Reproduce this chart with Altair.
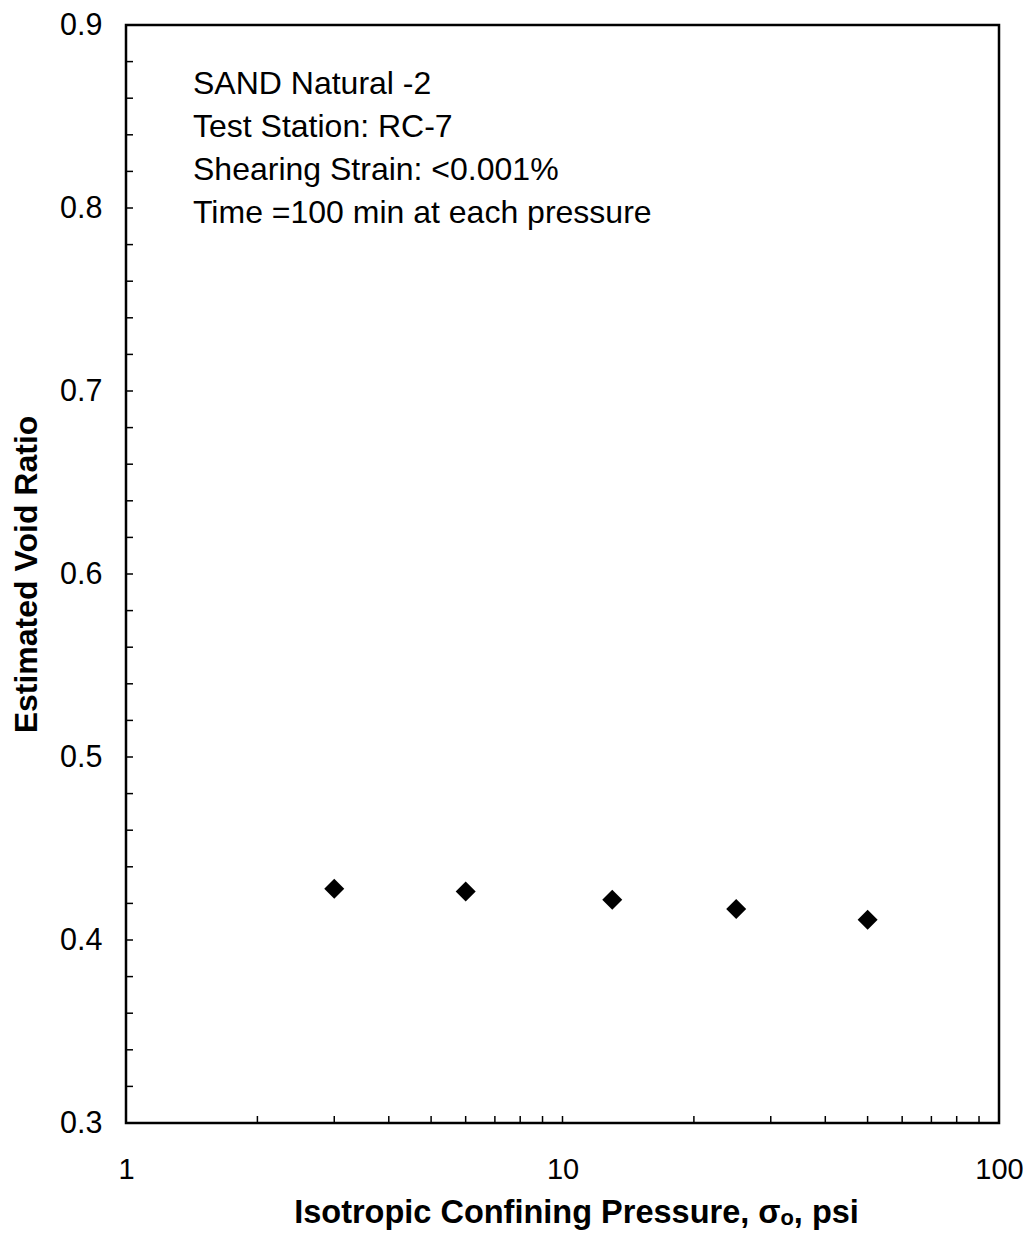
import altair as alt
import pandas as pd

# ---- data ----
pressure = [3, 6, 13, 25, 50]
void_ratio = [0.428, 0.4265, 0.422, 0.417, 0.411]

x_major = [1, 10, 100]
x_minor = [2, 3, 4, 5, 6, 7, 8, 9, 20, 30, 40, 50, 60, 70, 80, 90]
y_major = [0.3, 0.4, 0.5, 0.6, 0.7, 0.8, 0.9]
y_minor = [0.32, 0.34, 0.36, 0.38, 0.42, 0.44, 0.46, 0.48, 0.52, 0.54, 0.56, 0.58,
           0.62, 0.64, 0.66, 0.68, 0.72, 0.74, 0.76, 0.78, 0.82, 0.84, 0.86, 0.88]

notes = ["SAND Natural -2", "Test Station: RC-7",
         "Shearing Strain: <0.001%", "Time =100 min at each pressure"]

FONT = "Liberation Sans"
W, H = 873, 1098

xscale = alt.Scale(type="log", domain=[1, 100], nice=False)
yscale = alt.Scale(domain=[0.3, 0.9], zero=False, nice=False)

pts = pd.DataFrame({"p": pressure, "e": void_ratio})

points = alt.Chart(pts).mark_point(
    shape="diamond", filled=True, color="black", size=400, opacity=1
).encode(
    x=alt.X("p:Q", scale=xscale, axis=alt.Axis(
        values=x_major, format=".0f", title="Isotropic Confining Pressure, σₒ, psi",
        ticks=False, tickSize=0, domain=False, grid=False,
        labelFont=FONT, labelFontSize=29, labelColor="black",
        labelPadding=55, labelBaseline="alphabetic", labelFlush=False, labelOverlap=False,
        titleFont=FONT, titleFontSize=32.5, titleFontWeight="bold", titleColor="black",
        titleX=450, titleY=99, titleBaseline="alphabetic")),
    y=alt.Y("e:Q", scale=yscale, axis=alt.Axis(
        values=y_major, format=".1f", title="Estimated Void Ratio",
        ticks=False, tickSize=0, domain=False, grid=False,
        labelFont=FONT, labelFontSize=30.5, labelColor="black",
        labelPadding=24, labelOverlap=False, labelFlush=False,
        titleFont=FONT, titleFontSize=32, titleFontWeight="bold", titleColor="black",
        titleX=-90, titleY=549, titleBaseline="alphabetic", titleAngle=270)),
)

ytick_df = pd.DataFrame({"e": y_major[1:-1] + y_minor})
xtick_df = pd.DataFrame({"p": x_major[1:-1] + x_minor})

yticks = alt.Chart(ytick_df).mark_rule(color="black", strokeWidth=1.5).encode(
    y=alt.Y("e:Q", scale=yscale),
    x=alt.value(0), x2=alt.value(7))

xticks = alt.Chart(xtick_df).mark_rule(color="black", strokeWidth=1.5).encode(
    x=alt.X("p:Q", scale=xscale),
    y=alt.value(H), y2=alt.value(H - 7))

note_layers = []
for i, t in enumerate(notes):
    note_layers.append(
        alt.Chart(pd.DataFrame({"t": [t]})).mark_text(
            font=FONT, fontSize=32, color="black", align="left", baseline="alphabetic"
        ).encode(text="t:N", x=alt.value(67), y=alt.value(68.5 + 43 * i))
    )

chart = alt.layer(points, xticks, yticks, *note_layers).properties(
    width=W, height=H,
    autosize=alt.AutoSizeParams(type="none"),
    padding={"left": 118, "top": 17, "right": 24, "bottom": 108},
    background="white",
).configure_view(stroke="black", strokeWidth=2.5)

chart.save("out.html", embed_options={"renderer": "svg", "actions": False})
